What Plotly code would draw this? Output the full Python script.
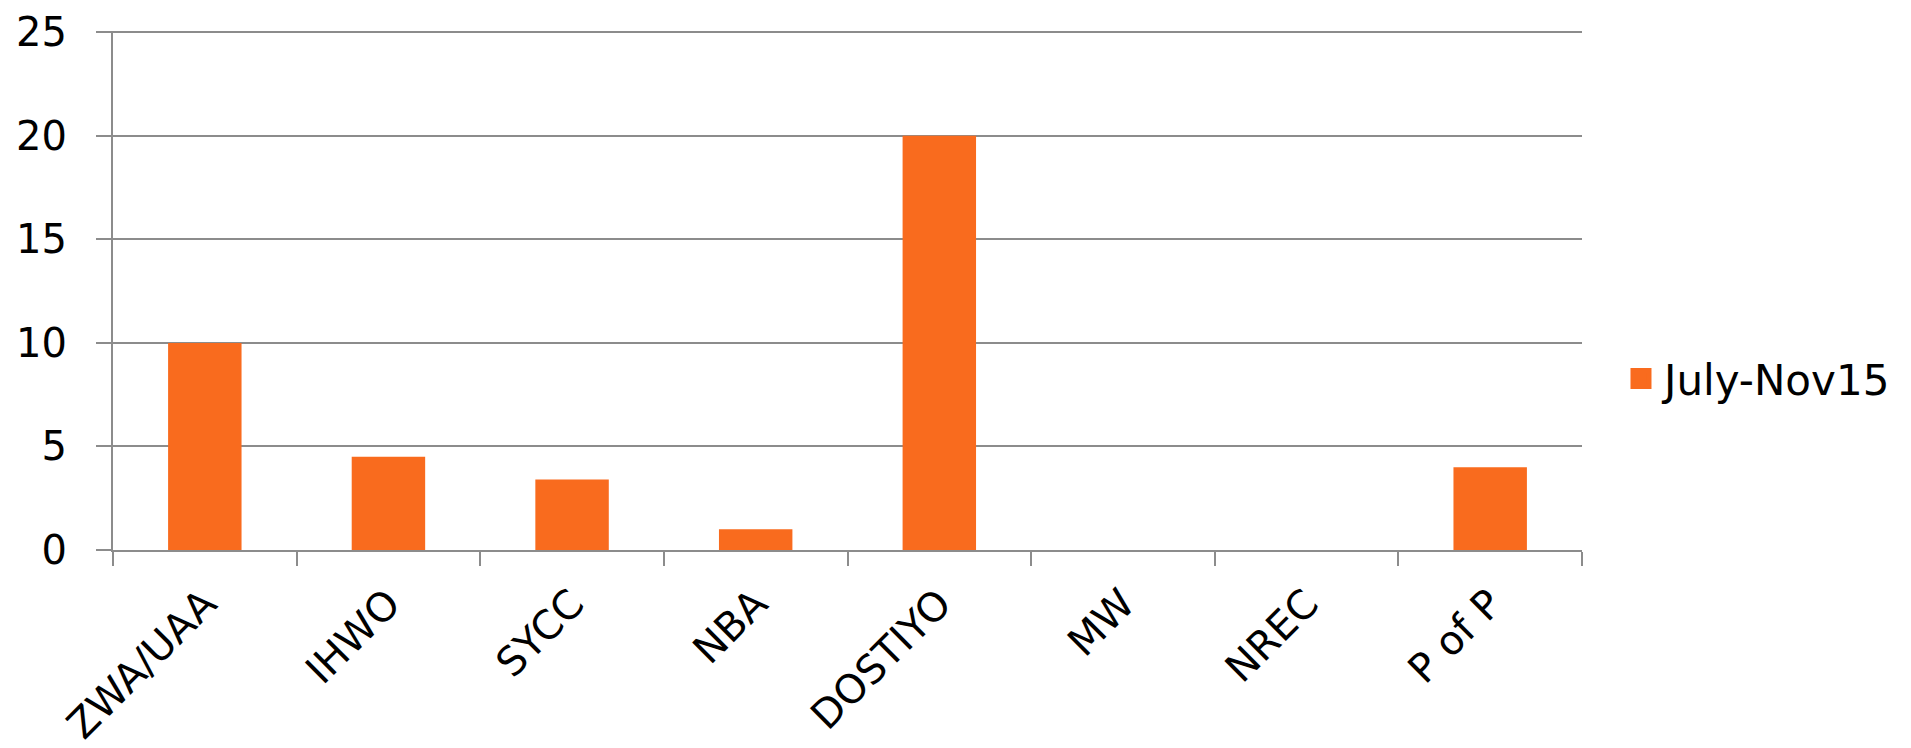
import plotly.graph_objects as go

categories = ["ZWA/UAA", "IHWO", "SYCC", "NBA", "DOSTIYO", "MW", "NREC", "P of P"]
values = [10, 4.5, 3.4, 1, 20, 0, 0, 4]
series_name = "July-Nov15"
y_ticks = [0, 5, 10, 15, 20, 25]

BAR_COLOR = "#F96B1E"
GRID = "#8C8C8C"
FONT = "DejaVu Sans"

fig = go.Figure()
fig.add_trace(go.Bar(
    x=categories, y=values, name=series_name,
    marker=dict(color=BAR_COLOR, line=dict(width=0)),
    showlegend=False,
))
# legend entry for the series (larger swatch than the default bar swatch)
fig.add_trace(go.Scatter(
    x=[None], y=[None], mode="markers", name=series_name,
    marker=dict(symbol="square", size=25, color=BAR_COLOR,
                line=dict(width=5, color=BAR_COLOR)),
    showlegend=True, hoverinfo="skip",
))

fig.update_layout(
    width=1911, height=748,
    margin=dict(l=105, r=337, t=23, b=206, autoexpand=False),
    paper_bgcolor="white", plot_bgcolor="white",
    font=dict(family=FONT, size=40, color="black"),
    bargap=0.6,
    barmode="overlay",
    showlegend=True,
    legend=dict(x=1.0245, y=0.33, xanchor="left", yanchor="middle",
                font=dict(family=FONT, size=42, color="black"),
                bgcolor="rgba(0,0,0,0)", itemwidth=36),
)

fig.update_xaxes(
    type="category",
    tickangle=-45,
    tickfont=dict(family=FONT, size=40, color="black"),
    ticklabelstandoff=12,
    showline=True, linecolor=GRID, linewidth=2,
    ticks="outside", ticklen=14, tickcolor=GRID, tickwidth=2,
    tickson="boundaries",
    showgrid=False,
)
fig.update_yaxes(
    range=[0, 25.06], tickvals=y_ticks,
    tickfont=dict(family=FONT, size=40, color="black"),
    ticklabeloverflow="allow",
    showline=True, linecolor=GRID, linewidth=2,
    ticks="outside", ticklen=15, tickcolor=GRID, tickwidth=2,
    ticklabelstandoff=21,
    showgrid=True, gridcolor=GRID, gridwidth=2,
    zeroline=False,
)

fig.write_html("out.html")
